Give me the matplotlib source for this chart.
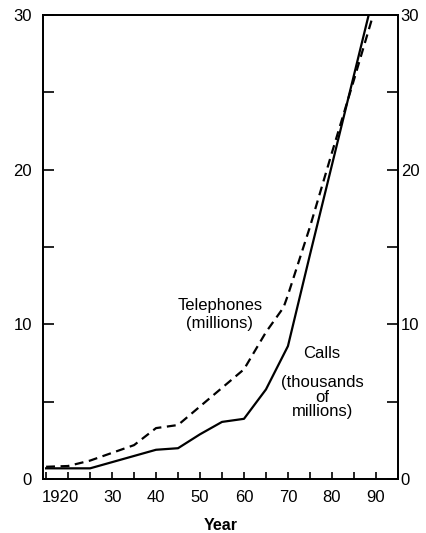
import matplotlib
matplotlib.use("Agg")
import matplotlib.pyplot as plt
import matplotlib.transforms as mtransforms
from matplotlib.ticker import MultipleLocator

plt.rcParams['font.family'] = ['Liberation Sans', 'DejaVu Sans']

# Datos
anios = [1915, 1920, 1925, 1930, 1935, 1940, 1945, 1950, 1955, 1960,
         1965, 1969, 1970, 1975, 1980, 1985, 1990]
telefonos = [0.8, 0.85, 1.2, 1.7, 2.2, 3.3, 3.5, 4.7, 5.9, 7.1,
             9.5, 11.1, 11.9, 16.3, 21.1, 25.8, 30.6]

anios_llamadas = [1915, 1920, 1925, 1930, 1935, 1940, 1945, 1950, 1955,
                  1960, 1965, 1970, 1975, 1980, 1985, 1990]
llamadas = [0.7, 0.7, 0.7, 1.1, 1.5, 1.9, 2.0, 2.9, 3.7,
            3.9, 5.8, 8.6, 14.5, 20.3, 26.1, 31.9]

x_ticks = [1920, 1930, 1940, 1950, 1960, 1970, 1980, 1990]
x_labels = ['1920', '30', '40', '50', '60', '70', '80', '90']
y_ticks = [0, 10, 20, 30]

fig = plt.figure(figsize=(4.26, 5.33), dpi=100)
ax = fig.add_axes([0.101, 0.101, 0.833, 0.871])

ax.plot(anios, telefonos, color='black', lw=1.6, ls=(0, (4, 2.5)))
ax.plot(anios_llamadas, llamadas, color='black', lw=1.6)

ax.set_xlim(1914.3, 1995)
ax.set_ylim(0, 30)

ax.set_xticks(x_ticks)
ax.set_xticklabels(x_labels)
ax.xaxis.set_minor_locator(MultipleLocator(5))
ax.set_yticks(y_ticks)
ax.yaxis.set_minor_locator(MultipleLocator(5))

ax.tick_params(axis='x', which='both', direction='in', length=5, width=1.2,
               labelsize=12, pad=8, top=False)
ax.tick_params(axis='y', which='both', direction='in', length=8, width=1.2,
               labelsize=12, left=True, right=False, pad=8)

# eje derecho con las mismas marcas
ax2 = ax.twinx()
ax2.set_ylim(0, 30)
ax2.set_yticks(y_ticks)
ax2.yaxis.set_minor_locator(MultipleLocator(5))
ax2.tick_params(axis='y', which='both', direction='in', length=8, width=1.2,
                labelsize=12, pad=2)

# la etiqueta 1920 está algo corrida a la izquierda
lbl = ax.get_xticklabels()[0]
lbl.set_transform(lbl.get_transform() +
                  mtransforms.ScaledTranslation(-8 / 100, 0, fig.dpi_scale_trans))

for a in (ax, ax2):
    for s in a.spines.values():
        s.set_linewidth(1.3)

ax.set_xlabel('Year', fontsize=11.5, fontweight='bold', labelpad=9)

ax.text(1954.5, 10.65, 'Telephones\n(millions)', ha='center', va='center',
        fontsize=12, linespacing=1.2)
ax.text(1977.6, 8.1, 'Calls', ha='center', va='center', fontsize=12)
ax.text(1977.9, 5.3, '(thousands\nof\nmillions)', ha='center', va='center',
        fontsize=12, linespacing=0.93)

fig.savefig('out.png', dpi=100)
